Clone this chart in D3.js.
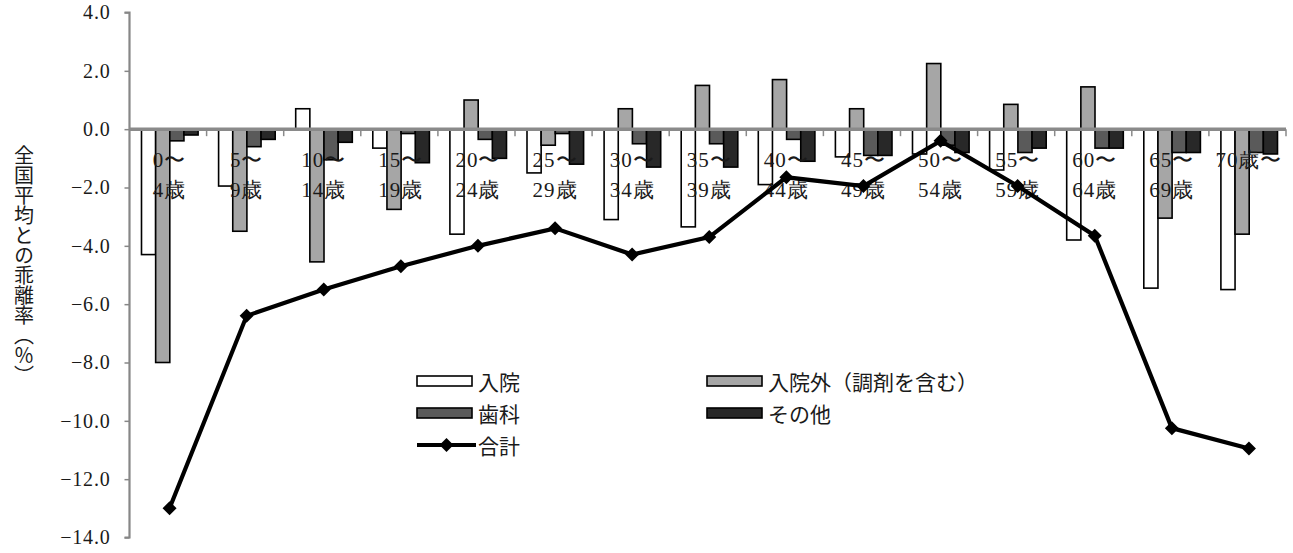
<!DOCTYPE html>
<html><head><meta charset="utf-8">
<script src="https://cdn.jsdelivr.net/npm/d3@7"></script>
<style>
html,body{margin:0;padding:0;background:#fff;}
svg{display:block;}
svg text{font-family:'Liberation Serif','DejaVu Serif','Times New Roman',serif;fill:#1a1a1a;}
svg text.jp{font-family:'Noto Sans CJK JP','Noto Sans CJK SC',sans-serif;}
</style></head>
<body>
<svg id="chart" width="1293" height="553"></svg>
<script>
const categories = ["0〜4歳","5〜9歳","10〜14歳","15〜19歳","20〜24歳","25〜29歳","30〜34歳","35〜39歳","40〜44歳","45〜49歳","50〜54歳","55〜59歳","60〜64歳","65〜69歳","70歳〜"];
const seriesNames = ["入院","入院外（調剤を含む）","歯科","その他"];
const inpatient  = [-4.3,-1.95,0.7,-0.65,-3.6,-1.5,-3.1,-3.35,-1.9,-0.95,-0.85,-1.4,-3.8,-5.45,-5.5];
const outpatient = [-8.0,-3.5,-4.55,-2.75,1.0,-0.55,0.7,1.5,1.7,0.7,2.25,0.85,1.45,-3.05,-3.6];
const dental     = [-0.4,-0.6,-1.05,-0.15,-0.35,-0.15,-0.5,-0.5,-0.35,-0.9,-0.55,-0.8,-0.65,-0.8,-0.8];
const other      = [-0.2,-0.35,-0.45,-1.15,-1.0,-1.2,-1.3,-1.3,-1.1,-0.9,-0.8,-0.65,-0.65,-0.8,-0.85];
const totalName = "合計";
const total      = [-13.0,-6.4,-5.5,-4.7,-4.0,-3.4,-4.3,-3.7,-1.65,-1.95,-0.4,-1.95,-3.65,-10.25,-10.95];
const yTicks = [4,2,0,-2,-4,-6,-8,-10,-12,-14];
const yTitle = "全国平均との乖離率（％）";

const seriesValues = [inpatient, outpatient, dental, other];
const fills = ["#ffffff","#a6a6a6","#5a5a5a","#282828"];
const serifStack = "'Liberation Serif','DejaVu Serif','Times New Roman',serif";

const svg = d3.select("#chart");
const pLeft = 129.5, pRight = 1286, pTop = 12.5, pBottom = 537.5;

const x = d3.scaleBand().domain(categories).range([pLeft, pRight]).paddingInner(0).paddingOuter(0);
const xs = d3.scaleBand().domain(d3.range(seriesNames.length)).range([12, x.bandwidth()-8.5]).padding(0);
const y = d3.scaleLinear().domain([-14, 4]).range([pBottom, pTop]);

// bars
const gBars = svg.append("g");
seriesValues.forEach((vals, si) => {
  gBars.selectAll(null).data(vals).enter().append("rect")
    .attr("x", (d,i) => x(categories[i]) + xs(si))
    .attr("width", xs.bandwidth())
    .attr("y", d => y(Math.max(0,d)))
    .attr("height", d => Math.abs(y(d) - y(0)))
    .attr("fill", fills[si])
    .attr("stroke", "#000")
    .attr("stroke-width", 1.6);
});

// y axis
const yAxis = d3.axisLeft(y).tickValues(yTicks).tickFormat(d3.format(".1f")).tickSize(5).tickPadding(14);
const gy = svg.append("g").attr("transform", `translate(${pLeft},0)`).call(yAxis);
gy.attr("font-family", serifStack).attr("font-size", 20);
gy.select(".domain").attr("stroke", "#878787").attr("stroke-width", 2.2).attr("d", `M-5,${y(4)}H0V${y(-14)}H-5`);
gy.selectAll(".tick line").attr("stroke", "#878787").attr("stroke-width", 1.5);
gy.selectAll(".tick text").style("font-family", serifStack).style("font-size", "20px").attr("fill", "#1a1a1a").attr("letter-spacing", 0.8);

// zero axis line + ticks
svg.append("line").attr("x1", pLeft).attr("x2", pRight).attr("y1", y(0)).attr("y2", y(0))
  .attr("stroke", "#8a8a8a").attr("stroke-width", 3.5);
svg.append("g").selectAll("line").data(categories).enter().append("line")
  .attr("x1", d => x(d) + x.bandwidth()).attr("x2", d => x(d) + x.bandwidth())
  .attr("y1", y(0)).attr("y2", y(0) + 7)
  .attr("stroke", "#8a8a8a").attr("stroke-width", 1.5);

// category labels
const gLab = svg.append("g");
categories.forEach(c => {
  const idx = c.indexOf("〜");
  const lines = idx === c.length - 1 ? [c] : [c.slice(0, idx+1), c.slice(idx+1)];
  lines.forEach((t, li) => {
    gLab.append("text")
      .attr("x", x(c) + x.bandwidth()/2 + 1.5)
      .attr("y", y(0) + 31 + li*29.5)
      .attr("text-anchor", "middle")
      .attr("dominant-baseline", "central")
      .style("font-family", serifStack)
      .style("font-size", "21px")
      .attr("letter-spacing", 1)
      .text(t);
  });
});

// total line
const cx = i => x(categories[i]) + x.bandwidth()/2 + 1.5;
const line = d3.line().x((d,i) => cx(i)).y(d => y(d));
svg.append("path").datum(total).attr("d", line).attr("fill", "none")
  .attr("stroke", "#000").attr("stroke-width", 4.2).attr("stroke-linejoin", "miter");
const diamond = "M0,-7L7,0L0,7L-7,0Z";
svg.append("g").selectAll("path").data(total).enter().append("path")
  .attr("d", diamond).attr("transform", (d,i) => `translate(${cx(i)},${y(d)})`).attr("fill", "#000");

// y title
svg.append("text").attr("class", "jp").attr("x", 24).attr("y", 145)
  .style("writing-mode", "vertical-rl")
  .attr("font-size", 20)
  .text(yTitle);

// legend
const leg = svg.append("g");
const legItems = [
  {name: seriesNames[0], fill: fills[0], x: 417, y: 381},
  {name: seriesNames[1], fill: fills[1], x: 707, y: 381},
  {name: seriesNames[2], fill: fills[2], x: 417, y: 413},
  {name: seriesNames[3], fill: fills[3], x: 707, y: 413}
];
legItems.forEach(it => {
  leg.append("rect").attr("x", it.x).attr("y", it.y - 5).attr("width", 55).attr("height", 10)
    .attr("fill", it.fill).attr("stroke", "#000").attr("stroke-width", 1.6);
  leg.append("text").attr("class", "jp").attr("x", it.x + 61).attr("y", it.y).attr("dominant-baseline", "central")
    .attr("font-size", 21).text(it.name);
});
leg.append("line").attr("x1", 417).attr("x2", 476).attr("y1", 445).attr("y2", 445)
  .attr("stroke", "#000").attr("stroke-width", 4);
leg.append("path").attr("d", diamond).attr("transform", "translate(446.5,445)").attr("fill", "#000");
leg.append("text").attr("class", "jp").attr("x", 478).attr("y", 445).attr("dominant-baseline", "central")
  .attr("font-size", 21).text(totalName);
</script>
</body></html>
